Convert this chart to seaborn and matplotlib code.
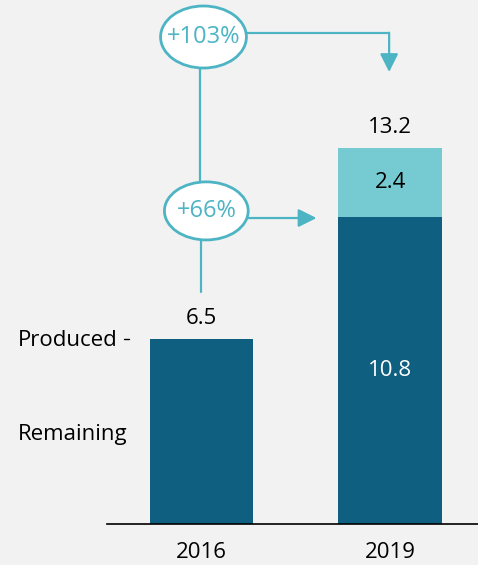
import matplotlib
matplotlib.use("Agg")
import pandas as pd
import seaborn as sns
import matplotlib.pyplot as plt
from matplotlib.patches import Ellipse, FancyArrowPatch

# data
years = ["2016", "2019"]
remaining = [6.5, 10.8]
produced_extra = [0.0, 2.4]
totals = [6.5, 13.2]
growth_labels = ["+103%", "+66%"]

dark = "#0E5F80"
light = "#76CBD2"
accent = "#4DB4C4"
bg = "#F2F2F2"

sns.set_theme(style="white")
plt.rcParams["font.family"] = ["Open Sans", "DejaVu Sans"]

df = pd.DataFrame({"year": years, "remaining": remaining, "total": totals})

fig = plt.figure(figsize=(4.78, 5.65), dpi=100, facecolor=bg)
ax = fig.add_axes([0.224, 0.0726, 0.776, 0.9274])
ax.set_facecolor(bg)

# total bars (top segment colour), then the base segment on top
sns.barplot(data=df, x="year", y="total", hue="year",
            palette=[dark, light], width=0.55, legend=False, ax=ax,
            saturation=1, linewidth=0)
sns.barplot(data=df, x="year", y="remaining", color=dark,
            width=0.55, ax=ax, saturation=1, linewidth=0)

ax.set_xlim(-0.5, 1.466)
ax.set_ylim(0, 18.41)
ax.set_xlabel("")
ax.set_ylabel("")
ax.set_yticks([])
fs = 16
ax.tick_params(axis="x", length=0, pad=13, labelsize=fs, colors="black")
for s in ["top", "right", "left"]:
    ax.spines[s].set_visible(False)
ax.spines["bottom"].set_color("black")
ax.spines["bottom"].set_linewidth(1.2)

# value labels
for i, t in enumerate(totals):
    ax.text(i, t + 0.35, f"{t:.1f}", ha="center", va="bottom", fontsize=fs, color="black")
ax.text(1, remaining[1] + produced_extra[1] / 2, f"{produced_extra[1]:.1f}",
        ha="center", va="center", fontsize=fs, color="black")
ax.text(1, remaining[1] / 2, f"{remaining[1]:.1f}",
        ha="center", va="center", fontsize=fs, color="white")

# side labels
ax.text(-0.445, totals[0] - 0.05, "Produced", ha="right", va="center",
        fontsize=fs, color="black", clip_on=False)
ax.plot([-0.412, -0.385], [totals[0], totals[0]], color="black", lw=1,
        clip_on=False)
ax.text(-0.39, 3.16, "Remaining", ha="right", va="center",
        fontsize=fs, color="black", clip_on=False)

# connectors
lw = 1.6
ax.plot([-0.01, -0.01], [16.0, 11.9], color=accent, lw=lw, zorder=3)
ax.plot([0.0, 0.0], [10.0, 8.15], color=accent, lw=lw, zorder=3)
ax.plot([0.23, 0.995], [17.26, 17.26], color=accent, lw=lw, zorder=3)
ax.add_patch(FancyArrowPatch((0.995, 17.26), (0.995, 15.88),
                             arrowstyle="-|>,head_length=11,head_width=5.5",
                             mutation_scale=1, color=accent, lw=lw,
                             shrinkA=0, shrinkB=0, zorder=3))
ax.add_patch(FancyArrowPatch((0.24, 10.75), (0.61, 10.75),
                             arrowstyle="-|>,head_length=11,head_width=5.5",
                             mutation_scale=1, color=accent, lw=lw,
                             shrinkA=0, shrinkB=0, zorder=3))

# growth bubbles
for (cx, cy, w, h), lab in zip([(0.011, 17.11, 0.455, 2.18), (0.026, 11.0, 0.444, 2.04)],
                               growth_labels):
    ax.add_patch(Ellipse((cx, cy), w, h, facecolor="white", edgecolor=accent,
                         lw=2, zorder=4, clip_on=False))
    ax.text(cx, cy, lab, ha="center", va="center", fontsize=17,
            color=accent, zorder=5)

fig.savefig("out.png", dpi=100, facecolor=bg)
